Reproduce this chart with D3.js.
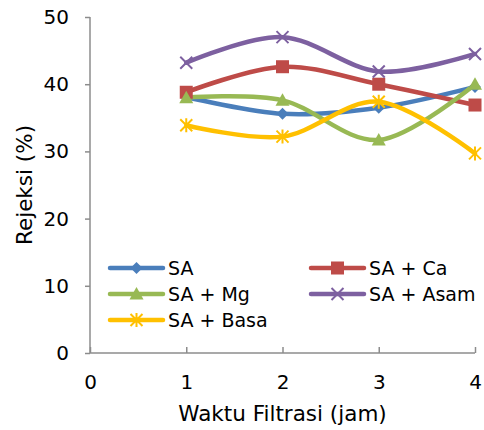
<!DOCTYPE html>
<html>
<head>
<meta charset="utf-8">
<script src="https://cdn.jsdelivr.net/npm/d3@7"></script>
<style>
  body { margin: 0; background: #fff; }
  svg { font-family: "DejaVu Sans", Verdana, sans-serif; }
</style>
</head>
<body>
<svg id="chart" width="484" height="430"></svg>
<script>
// data
const hours = [1, 2, 3, 4];
const seriesNames = ["SA", "SA + Ca", "SA + Mg", "SA + Asam", "SA + Basa"];
const saValues = [38.1, 35.6, 36.5, 39.6];
const caValues = [38.8, 42.6, 40.0, 36.9];
const mgValues = [38.0, 37.6, 31.7, 40.0];
const asamValues = [43.2, 47.0, 41.9, 44.5];
const basaValues = [33.9, 32.2, 37.4, 29.7];
const xTicks = [0, 1, 2, 3, 4];
const yTicks = [0, 10, 20, 30, 40, 50];

const series = [
  { name: seriesNames[0], values: saValues, color: "#4A7EBB", marker: "diamond" },
  { name: seriesNames[1], values: caValues, color: "#BE4B48", marker: "square" },
  { name: seriesNames[2], values: mgValues, color: "#98B954", marker: "triangle" },
  { name: seriesNames[3], values: asamValues, color: "#7D60A0", marker: "x" },
  { name: seriesNames[4], values: basaValues, color: "#FFC000", marker: "star" }
];

const margin = { top: 17, right: 9, bottom: 77, left: 90 };
const width = 484 - margin.left - margin.right;
const height = 430 - margin.top - margin.bottom;

const svg = d3.select("#chart");
const g = svg.append("g").attr("transform", `translate(${margin.left},${margin.top})`);

const x = d3.scaleLinear().domain([0, 4]).range([0, width]);
const y = d3.scaleLinear().domain([0, 50]).range([height, 0]);

const axisColor = "#8c8c8c";
const tickFont = 20;

// y axis
const yAxis = g.append("g")
  .call(d3.axisLeft(y).tickValues(yTicks).tickFormat(d3.format("d")).tickSize(5).tickPadding(16));
yAxis.select(".domain").attr("stroke", axisColor).attr("stroke-width", 1.5)
  .attr("d", `M0,0V${height}`);
yAxis.selectAll(".tick line").attr("stroke", axisColor).attr("stroke-width", 1.5);
yAxis.selectAll(".tick text").attr("font-size", tickFont).attr("fill", "#000")
  .attr("font-family", "DejaVu Sans, Verdana, sans-serif");

// x axis (ticks point inward)
const xAxis = g.append("g")
  .attr("transform", `translate(0,${height})`)
  .call(d3.axisBottom(x).tickValues(xTicks).tickFormat(d3.format("d")).tickSize(-6).tickPadding(22));
xAxis.select(".domain").attr("stroke", axisColor).attr("stroke-width", 1.5)
  .attr("d", `M0,0H${width}`);
xAxis.selectAll(".tick line").attr("stroke", axisColor).attr("stroke-width", 1.5);
xAxis.selectAll(".tick text").attr("font-size", tickFont).attr("fill", "#000")
  .attr("font-family", "DejaVu Sans, Verdana, sans-serif");

// axis titles
svg.append("text")
  .attr("x", margin.left + x(2))
  .attr("y", 421)
  .attr("text-anchor", "middle")
  .attr("font-size", 21.5)
  .text("Waktu Filtrasi (jam)");

svg.append("text")
  .attr("transform", `translate(32,${margin.top + height / 2}) rotate(-90)`)
  .attr("text-anchor", "middle")
  .attr("font-size", 21.5)
  .text("Rejeksi (%)");

const line = d3.line()
  .x((d, i) => x(hours[i]))
  .y(d => y(d))
  .curve(d3.curveCardinal.tension(0));

function drawMarker(sel, type, color, cx, cy) {
  if (type === "diamond") {
    sel.append("path").attr("d", `M${cx},${cy - 6}L${cx + 6},${cy}L${cx},${cy + 6}L${cx - 6},${cy}Z`)
      .attr("fill", color);
  } else if (type === "square") {
    sel.append("rect").attr("x", cx - 6.5).attr("y", cy - 6.5).attr("width", 13).attr("height", 13)
      .attr("fill", color);
  } else if (type === "triangle") {
    sel.append("path").attr("d", `M${cx},${cy - 7}L${cx + 7},${cy + 5.5}L${cx - 7},${cy + 5.5}Z`)
      .attr("fill", color);
  } else if (type === "x") {
    sel.append("path").attr("d", `M${cx - 6},${cy - 6}L${cx + 6},${cy + 6}M${cx + 6},${cy - 6}L${cx - 6},${cy + 6}`)
      .attr("stroke", color).attr("stroke-width", 2);
  } else if (type === "star") {
    sel.append("path").attr("d", `M${cx - 6},${cy - 6}L${cx + 6},${cy + 6}M${cx + 6},${cy - 6}L${cx - 6},${cy + 6}M${cx},${cy - 7}V${cy + 7}`)
      .attr("stroke", color).attr("stroke-width", 2);
  }
}

// lines
series.forEach(s => {
  g.append("path")
    .attr("d", line(s.values))
    .attr("fill", "none")
    .attr("stroke", s.color)
    .attr("stroke-width", 4.5)
    .attr("stroke-linecap", "round");
});

// markers on top
series.forEach(s => {
  const mg = g.append("g");
  s.values.forEach((v, i) => drawMarker(mg, s.marker, s.color, x(hours[i]), y(v)));
});

// legend
const legendPos = [
  { lx: 110, ly: 268 },
  { lx: 311, ly: 268 },
  { lx: 110, ly: 294 },
  { lx: 311, ly: 294 },
  { lx: 110, ly: 320 }
];
series.forEach((s, i) => {
  const p = legendPos[i];
  const lg = svg.append("g");
  lg.append("line")
    .attr("x1", p.lx).attr("x2", p.lx + 53)
    .attr("y1", p.ly).attr("y2", p.ly)
    .attr("stroke", s.color).attr("stroke-width", 4.5)
    .attr("stroke-linecap", "round");
  drawMarker(lg, s.marker, s.color, p.lx + 26.5, p.ly);
  lg.append("text")
    .attr("x", p.lx + 58)
    .attr("y", p.ly + 7)
    .attr("font-size", 19)
    .text(s.name);
});
</script>
</body>
</html>
